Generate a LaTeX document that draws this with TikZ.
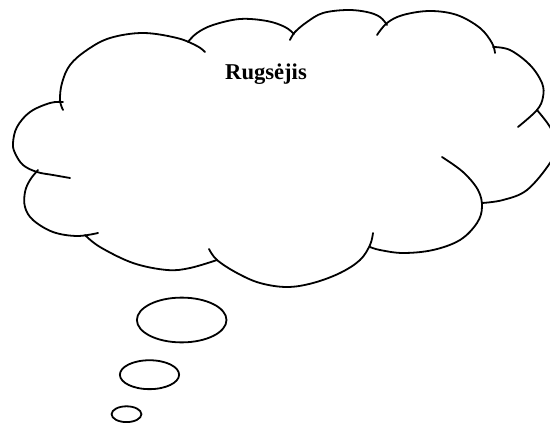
\documentclass[tikz,border=0pt]{standalone}
\usepackage{fontspec}
\setmainfont{Liberation Serif}
\usetikzlibrary{shapes.geometric}
\tikzset{
  lobe/.style={line width=1.8pt, line cap=round, line join=round},
  bubble/.style={ellipse, draw, line width=1.8pt, inner sep=0pt},
  title/.style={font=\fontsize{22.6}{27}\selectfont\bfseries, anchor=base, inner sep=0pt}
}
\begin{document}
\begin{tikzpicture}[x=1pt,y=-1pt]
\useasboundingbox (0,0) rectangle (550,423);
\clip (0,0) rectangle (550,423);
% cloud lobes
\draw[lobe] plot[smooth, tension=0.6] coordinates {(63,110) (60,100) (62,83) (70,65) (87,50) (110,38) (143,33) (177,38) (197,46) (205,52)};
\draw[lobe] plot[smooth, tension=0.6] coordinates {(188,42) (197,33) (213,25) (240,19) (267,21) (285,27) (294,34)};
\draw[lobe] plot[smooth, tension=0.6] coordinates {(290,40) (295,32) (307,22) (323,13) (347,10) (367,12) (380,17) (387,25)};
\draw[lobe] plot[smooth, tension=0.6] coordinates {(377,35) (387,23) (403,15) (430,11) (457,15) (480,28) (492,43) (495,53)};
\draw[lobe] plot[smooth, tension=0.6] coordinates {(493,47) (510,50) (530,65) (542,83) (543,97) (537,110) (518,127)};
\draw[lobe] plot[smooth, tension=0.6] coordinates {(537,110) (550,127) (557,145) (550,163) (527,190) (503,200) (482,203)};
\draw[lobe] plot[smooth, tension=0.6] coordinates {(442,157) (463,172) (478,190) (482,207) (477,223) (460,240) (433,250) (403,253) (380,250) (370,247)};
\draw[lobe] plot[smooth, tension=0.6] coordinates {(373,233) (370,245) (360,260) (340,273) (313,283) (287,287) (260,283) (237,273) (217,260) (209,249)};
\draw[lobe] plot[smooth, tension=0.6] coordinates {(85,235) (100,247) (133,263) (167,270) (190,268) (217,260)};
\draw[lobe] plot[smooth, tension=0.6] coordinates {(38,170) (30,180) (25,192) (25,207) (33,220) (53,232) (77,236) (98,233)};
\draw[lobe] plot[smooth, tension=0.6] coordinates {(63,102) (50,103) (30,112) (17,127) (13,143) (15,153) (23,165) (37,172) (53,175) (70,178)};
% title
\node[title] (t) at (266,79) {Rugsėjis};
% thought bubbles
\node[bubble, minimum width=89.6pt, minimum height=44.8pt] (b1) at (181.7,320) {};
\node[bubble, minimum width=59.2pt, minimum height=28.9pt] (b2) at (149.5,374.7) {};
\node[bubble, minimum width=29.8pt, minimum height=15.8pt] (b3) at (126.5,414.2) {};
\end{tikzpicture}
\end{document}
